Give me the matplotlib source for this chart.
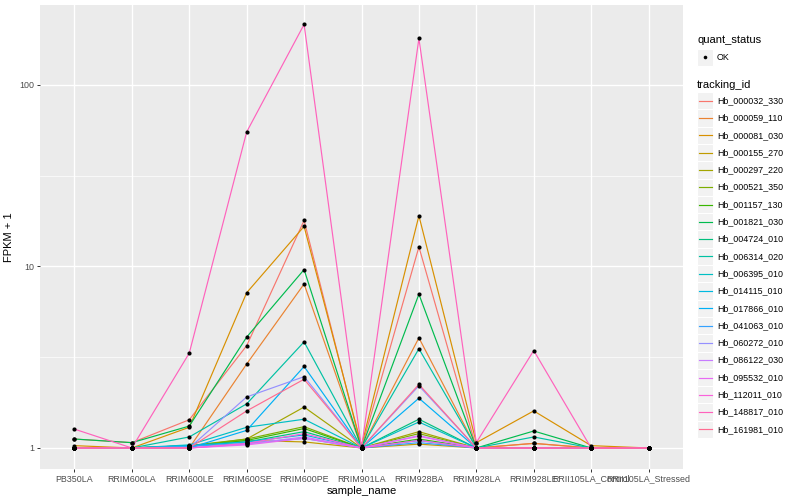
import matplotlib
matplotlib.use("Agg")
import matplotlib.pyplot as plt
from matplotlib.patches import Rectangle

plt.rcParams['font.family'] = ['Liberation Sans', 'DejaVu Sans']

sample_name = ["PB350LA", "RRIM600LA", "RRIM600LE", "RRIM600SE", "RRIM600PE",
               "RRIM901LA", "RRIM928BA", "RRIM928LA", "RRIM928LE",
               "RRII105LA_Control", "RRII105LA_Stressed"]

tracking_id = ["Hb_000032_330", "Hb_000059_110", "Hb_000081_030", "Hb_000155_270",
               "Hb_000297_220", "Hb_000521_350", "Hb_001157_130", "Hb_001821_030",
               "Hb_004724_010", "Hb_006314_020", "Hb_006395_010", "Hb_014115_010",
               "Hb_017866_010", "Hb_041063_010", "Hb_060272_010", "Hb_086122_030",
               "Hb_095532_010", "Hb_112011_010", "Hb_148817_010", "Hb_161981_010"]

# FPKM + 1, one list per tracking_id, in sample_name order
Hb_000032_330 = [1.12, 1.07, 1.43, 3.66, 17.9, 1.0, 12.8, 1.0, 1.06, 1.0, 1.0]
Hb_000059_110 = [1.0, 1.0, 1.0, 2.90, 8.0, 1.0, 4.04, 1.0, 1.06, 1.0, 1.0]
Hb_000081_030 = [1.03, 1.0, 1.30, 7.16, 16.6, 1.03, 19.0, 1.07, 1.60, 1.03, 1.0]
Hb_000155_270 = [1.0, 1.0, 1.02, 1.10, 1.08, 1.0, 1.05, 1.0, 1.0, 1.0, 1.0]
Hb_000297_220 = [1.0, 1.0, 1.02, 1.12, 1.68, 1.0, 1.23, 1.0, 1.0, 1.0, 1.0]
Hb_000521_350 = [1.0, 1.0, 1.03, 1.12, 1.31, 1.0, 1.20, 1.0, 1.0, 1.0, 1.0]
Hb_001157_130 = [1.0, 1.0, 1.02, 1.10, 1.28, 1.0, 1.12, 1.0, 1.0, 1.0, 1.0]
Hb_001821_030 = [1.12, 1.07, 1.32, 4.08, 9.6, 1.0, 7.03, 1.0, 1.24, 1.0, 1.0]
Hb_004724_010 = [1.0, 1.0, 1.03, 1.08, 1.23, 1.0, 1.44, 1.0, 1.0, 1.0, 1.0]
Hb_006314_020 = [1.0, 1.0, 1.15, 1.75, 3.84, 1.0, 3.52, 1.0, 1.15, 1.0, 1.0]
Hb_006395_010 = [1.0, 1.0, 1.04, 1.30, 1.44, 1.0, 1.39, 1.0, 1.0, 1.0, 1.0]
Hb_014115_010 = [1.0, 1.0, 1.03, 1.08, 1.18, 1.0, 1.10, 1.0, 1.0, 1.0, 1.0]
Hb_017866_010 = [1.0, 1.0, 1.0, 1.25, 2.81, 1.0, 1.88, 1.0, 1.0, 1.0, 1.0]
Hb_041063_010 = [1.0, 1.0, 1.02, 1.06, 1.13, 1.0, 1.07, 1.0, 1.0, 1.0, 1.0]
Hb_060272_010 = [1.0, 1.0, 1.0, 1.91, 2.47, 1.0, 2.20, 1.0, 1.0, 1.0, 1.0]
Hb_086122_030 = [1.0, 1.0, 1.0, 1.05, 1.15, 1.0, 1.17, 1.0, 1.0, 1.0, 1.0]
Hb_095532_010 = [1.0, 1.0, 1.0, 1.04, 1.13, 1.0, 1.16, 1.0, 1.0, 1.0, 1.0]
Hb_112011_010 = [1.0, 1.0, 1.0, 1.06, 1.20, 1.0, 1.10, 1.0, 1.0, 1.0, 1.0]
Hb_148817_010 = [1.27, 1.0, 3.33, 55.0, 215.0, 1.0, 180.0, 1.07, 3.44, 1.0, 1.0]
Hb_161981_010 = [1.0, 1.0, 1.0, 1.60, 2.39, 1.0, 2.24, 1.0, 1.0, 1.0, 1.0]

valores = [Hb_000032_330, Hb_000059_110, Hb_000081_030, Hb_000155_270,
           Hb_000297_220, Hb_000521_350, Hb_001157_130, Hb_001821_030,
           Hb_004724_010, Hb_006314_020, Hb_006395_010, Hb_014115_010,
           Hb_017866_010, Hb_041063_010, Hb_060272_010, Hb_086122_030,
           Hb_095532_010, Hb_112011_010, Hb_148817_010, Hb_161981_010]

# ggplot default hue palette for 20 levels
colores = ["#F8766D", "#EA8331", "#D89000", "#C09B00", "#A3A500", "#7CAE00",
           "#39B600", "#00BB4E", "#00BF7D", "#00C1A3", "#00BFC4", "#00BAE0",
           "#00B0F6", "#35A2FF", "#9590FF", "#C77CFF", "#E76BF3", "#FA62DB",
           "#FF62BC", "#FF6C91"]

W, H = 800, 500
fig = plt.figure(figsize=(8, 5), dpi=100)
fig.patch.set_facecolor("white")

# panel in pixels: x 40..683, y 5..469
ax = fig.add_axes([40 / W, (H - 469) / H, (683 - 40) / W, (469 - 5) / H])
ax.set_facecolor("#EBEBEB")

x = list(range(len(sample_name)))
for vals, col in zip(valores, colores):
    ax.plot(x, vals, color=col, lw=0.85, zorder=3)
for vals in valores:
    ax.plot(x, vals, ls="none", marker="o", ms=3.0, mew=0, color="black", zorder=4)

ax.set_yscale("log")
ax.set_yticks([1, 10, 100])
ax.set_yticklabels(["1", "10", "100"])
ax.set_yticks([10 ** 0.5, 10 ** 1.5], minor=True)
ax.yaxis.set_minor_formatter(plt.NullFormatter())
ax.set_xticks(x)
ax.set_xticklabels(sample_name)
# limites al final para que set_yticks no los cambie
ax.set_ylim(0.766, 275)
ax.set_xlim(-0.6, len(sample_name) - 1 + 0.6)

ax.grid(True, which="major", color="white", lw=1.0, zorder=0)
ax.grid(True, which="minor", axis="y", color="white", lw=0.5, zorder=0)
ax.set_axisbelow(True)
for s in ax.spines.values():
    s.set_visible(False)
ax.tick_params(which="major", length=2.5, width=0.7, color="#333333",
               labelsize=6.4, labelcolor="#4D4D4D", pad=1.5)
ax.tick_params(which="minor", length=0)

ax.set_xlabel("sample_name", fontsize=8, color="black", labelpad=2)
ax.set_ylabel("FPKM + 1", fontsize=8, color="black", labelpad=4)

# leyenda dibujada a mano, estilo ggplot
lax = fig.add_axes([0, 0, 1, 1])
lax.set_xlim(0, W)
lax.set_ylim(H, 0)
lax.axis("off")
lax.patch.set_alpha(0)

lax.text(697, 40, "quant_status", fontsize=8, va="center", ha="left")
lax.add_patch(Rectangle((697, 49), 16, 16.5, facecolor="#F2F2F2", edgecolor="white", lw=0.8))
lax.plot([705], [57.3], marker="o", ms=2.6, mew=0, color="black")
lax.text(717, 57.3, "OK", fontsize=6.4, va="center", ha="left")

lax.text(697, 85, "tracking_id", fontsize=8, va="center", ha="left")
y0, dy = 100.7, 17.3
for i, (tid, col) in enumerate(zip(tracking_id, colores)):
    yc = y0 + i * dy
    lax.add_patch(Rectangle((697, yc - dy / 2), 16, dy, facecolor="#F2F2F2",
                            edgecolor="white", lw=0.8))
    lax.plot([698.5, 711.5], [yc, yc], color=col, lw=0.85)
    lax.text(717, yc, tid, fontsize=6.4, va="center", ha="left")

plt.savefig("out.png", dpi=100)
